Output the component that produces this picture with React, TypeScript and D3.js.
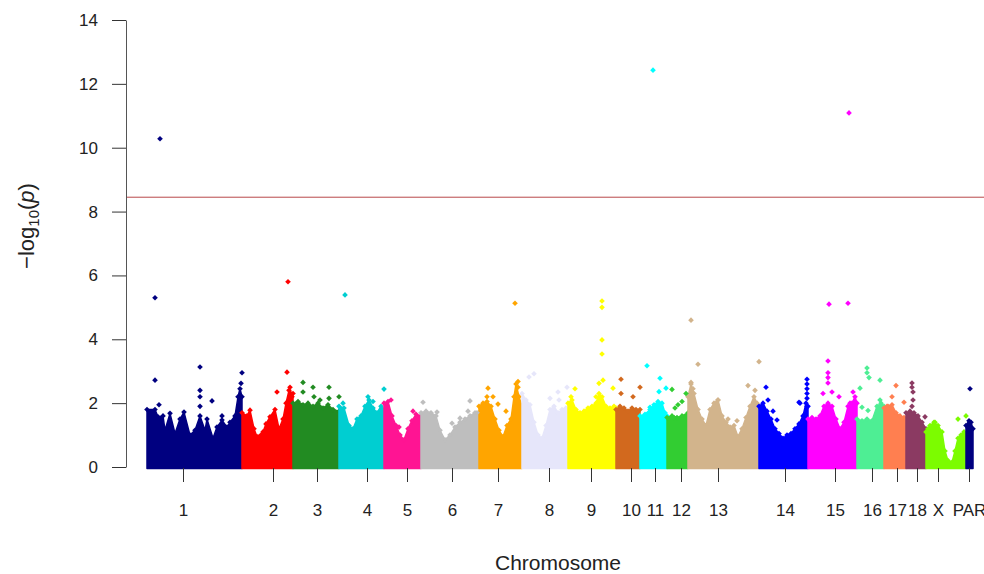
import { useEffect, useRef } from 'react'
import * as d3 from 'd3'

const chromosomes = ['1', '2', '3', '4', '5', '6', '7', '8', '9', '10', '11', '12', '13', '14', '15', '16', '17', '18', 'X', 'PAR']
const chrLengths = [95, 51, 46, 45, 37, 58, 43, 46, 48, 24, 27, 21, 71, 49, 49, 27, 22, 20, 40, 7]
const chrTickOffsets = [36, 31, 24, 28, 23, 31, 19, 27, 23, 15, 15, 14, 30, 26, 27, 15, 13, 11, 12, 3]
const chrColors = [
  '#000080', '#FF0000', '#228B22', '#00CED1', '#FF1493', '#BEBEBE', '#FFA500',
  '#E6E6FA', '#FFFF00', '#D2691E', '#00FFFF', '#32CD32', '#D2B48C', '#0000FF',
  '#FF00FF', '#4EEE94', '#FF7F50', '#8B3A62', '#7CFC00', '#000080'
]
const yTicks = [0, 2, 4, 6, 8, 10, 12, 14]
const threshold = 8.45

// upper edge of the dense cloud of SNPs: [chromosome, position, -log10(p)]
const bandTops: [string, number, number][] = [
  ['1', 0, 1.8], ['1', 8, 1.8], ['1', 11, 1.57], ['1', 16, 1.6], ['1', 18, 1.15], ['1', 23, 1.68], ['1', 28, 1.05],
  ['1', 33, 1.5], ['1', 37, 1.72], ['1', 43, 1.0], ['1', 48, 1.15], ['1', 53, 1.6], ['1', 58, 1.15], ['1', 60, 1.5],
  ['1', 66, 0.9], ['1', 70, 1.25], ['1', 75, 1.47], ['1', 80, 1.25], ['1', 83, 1.4], ['1', 88, 1.6], ['1', 91, 2.2],
  ['1', 93, 2.45], ['1', 95, 2.2],
  ['2', 0, 1.7], ['2', 5, 1.6], ['2', 8, 1.78], ['2', 12, 1.2], ['2', 15, 0.95], ['2', 21, 1.1], ['2', 24, 1.35],
  ['2', 28, 1.57], ['2', 33, 1.8], ['2', 37, 1.2], ['2', 41, 1.5], ['2', 44, 2.0], ['2', 47, 2.4], ['2', 51, 2.3],
  ['3', 0, 2.0], ['3', 5, 2.05], ['3', 10, 1.95], ['3', 15, 2.0], ['3', 20, 1.9], ['3', 25, 2.0], ['3', 30, 1.85],
  ['3', 35, 1.95], ['3', 40, 1.8], ['3', 46, 1.75],
  ['4', 0, 1.9], ['4', 5, 1.85], ['4', 10, 1.3], ['4', 14, 1.2], ['4', 18, 1.5], ['4', 22, 1.6], ['4', 26, 1.9],
  ['4', 30, 2.1], ['4', 34, 1.85], ['4', 38, 1.7], ['4', 42, 1.9], ['4', 45, 1.8],
  ['5', 0, 2.0], ['5', 4, 2.05], ['5', 8, 1.6], ['5', 12, 1.3], ['5', 16, 1.0], ['5', 20, 0.85], ['5', 24, 1.2],
  ['5', 28, 1.45], ['5', 32, 1.65], ['5', 37, 1.6],
  ['6', 0, 1.7], ['6', 5, 1.75], ['6', 10, 1.7], ['6', 15, 1.6], ['6', 19, 1.15], ['6', 24, 0.85], ['6', 29, 1.0],
  ['6', 34, 1.25], ['6', 39, 1.4], ['6', 44, 1.5], ['6', 49, 1.6], ['6', 54, 1.7], ['6', 58, 1.7],
  ['7', 0, 1.9], ['7', 4, 2.0], ['7', 8, 2.05], ['7', 12, 1.9], ['7', 16, 1.5], ['7', 20, 1.15], ['7', 24, 0.95],
  ['7', 28, 1.3], ['7', 32, 1.5], ['7', 35, 2.2], ['7', 37, 2.6], ['7', 40, 2.2], ['7', 43, 1.9],
  ['8', 0, 2.3], ['8', 4, 2.1], ['8', 8, 1.95], ['8', 12, 1.4], ['8', 16, 1.0], ['8', 20, 0.9], ['8', 24, 1.3],
  ['8', 28, 1.8], ['8', 32, 1.9], ['8', 36, 1.7], ['8', 40, 1.8], ['8', 44, 1.85], ['8', 46, 1.8],
  ['9', 0, 2.0], ['9', 4, 2.1], ['9', 8, 1.8], ['9', 12, 1.7], ['9', 16, 1.75], ['9', 20, 1.85], ['9', 24, 1.9],
  ['9', 28, 2.0], ['9', 31, 2.3], ['9', 34, 2.2], ['9', 38, 1.9], ['9', 42, 1.85], ['9', 46, 1.9], ['9', 48, 1.85],
  ['10', 0, 1.8], ['10', 4, 1.9], ['10', 8, 1.85], ['10', 12, 1.75], ['10', 16, 1.85], ['10', 20, 1.8], ['10', 24, 1.8],
  ['11', 0, 1.6], ['11', 5, 1.65], ['11', 10, 1.8], ['11', 14, 1.95], ['11', 18, 2.05], ['11', 22, 2.0], ['11', 25, 1.7],
  ['11', 27, 1.6],
  ['12', 0, 1.55], ['12', 5, 1.6], ['12', 10, 1.55], ['12', 15, 1.6], ['12', 21, 1.7],
  ['13', 0, 2.2], ['13', 3, 2.6], ['13', 6, 2.3], ['13', 10, 1.8], ['13', 14, 1.5], ['13', 18, 1.3], ['13', 22, 1.8],
  ['13', 26, 2.0], ['13', 30, 2.1], ['13', 34, 1.6], ['13', 38, 1.4], ['13', 42, 1.25], ['13', 46, 1.3], ['13', 50, 0.95],
  ['13', 54, 1.2], ['13', 58, 1.55], ['13', 62, 1.9], ['13', 66, 2.2], ['13', 69, 2.0], ['13', 71, 1.9],
  ['14', 0, 1.9], ['14', 4, 2.0], ['14', 8, 1.75], ['14', 12, 1.5], ['14', 16, 1.2], ['14', 20, 1.05], ['14', 24, 0.9],
  ['14', 28, 1.0], ['14', 32, 1.05], ['14', 36, 1.2], ['14', 40, 1.35], ['14', 44, 1.6], ['14', 47, 2.0], ['14', 49, 1.9],
  ['15', 0, 1.5], ['15', 4, 1.55], ['15', 8, 1.5], ['15', 12, 1.6], ['15', 16, 1.9], ['15', 20, 2.0], ['15', 24, 1.9],
  ['15', 28, 1.5], ['15', 32, 1.2], ['15', 36, 1.4], ['15', 40, 1.9], ['15', 44, 2.0], ['15', 47, 2.2], ['15', 49, 2.0],
  ['16', 0, 1.5], ['16', 5, 1.45], ['16', 10, 1.5], ['16', 15, 1.45], ['16', 20, 1.9], ['16', 24, 2.0], ['16', 27, 1.9],
  ['17', 0, 1.85], ['17', 4, 1.9], ['17', 8, 1.95], ['17', 12, 1.7], ['17', 16, 1.6], ['17', 20, 1.55], ['17', 22, 1.5],
  ['18', 0, 1.7], ['18', 4, 1.75], ['18', 8, 1.7], ['18', 12, 1.6], ['18', 16, 1.4], ['18', 20, 1.2],
  ['X', 0, 1.1], ['X', 4, 1.3], ['X', 8, 1.4], ['X', 12, 1.3], ['X', 16, 1.1], ['X', 19, 0.5], ['X', 22, 0.2],
  ['X', 26, 0.15], ['X', 29, 0.5], ['X', 32, 0.9], ['X', 35, 1.0], ['X', 38, 1.1], ['X', 40, 1.0],
  ['PAR', 0, 1.3], ['PAR', 3, 1.45], ['PAR', 5, 1.4], ['PAR', 7, 1.2]
]

// SNPs standing out above the cloud: [chromosome, position, -log10(p)]
const snps: [string, number, number][] = [
  ['1', 13, 10.28], ['1', 8, 5.3], ['1', 8, 2.72], ['1', 12, 1.95], ['1', 53, 3.13], ['1', 53, 2.4], ['1', 53, 2.2],
  ['1', 53, 1.9], ['1', 65, 2.07], ['1', 75, 1.6], ['1', 94, 2.62], ['1', 95, 2.95],
  ['2', 46, 5.8], ['2', 45, 2.97], ['2', 35, 2.35], ['2', 48, 2.5], ['2', 50, 2.2],
  ['3', 10, 2.65], ['3', 10, 2.35], ['3', 20, 2.5], ['3', 21, 2.2], ['3', 27, 2.1], ['3', 36, 2.5], ['3', 36, 2.15],
  ['3', 46, 2.2],
  ['4', 6, 5.39], ['4', 4, 2.0], ['4', 29, 2.2], ['4', 34, 2.05], ['4', 45, 2.44],
  ['5', 7, 2.1], ['5', 15, 1.25], ['5', 29, 1.75],
  ['6', 2, 2.03], ['6', 16, 1.72], ['6', 31, 1.37], ['6', 39, 1.53], ['6', 47, 1.75], ['6', 49, 2.07], ['6', 56, 1.7],
  ['7', 36, 5.13], ['7', 9, 2.47], ['7', 8, 2.2], ['7', 14, 2.2], ['7', 19, 1.97], ['7', 27, 1.75], ['7', 39, 2.68],
  ['7', 39, 2.5],
  ['8', 7, 2.82], ['8', 12, 2.92], ['8', 28, 2.15], ['8', 36, 2.35], ['8', 45, 2.5], ['8', 37, 2.1],
  ['9', 34, 5.2], ['9', 34, 5.0], ['9', 34, 3.98], ['9', 34, 3.54], ['9', 7, 2.45], ['9', 31, 2.62], ['9', 35, 2.72],
  ['9', 45, 2.47], ['9', 3, 2.2], ['9', 28, 2.2],
  ['10', 5, 2.75], ['10', 5, 2.3], ['10', 17, 2.2], ['10', 24, 2.5],
  ['11', 13, 12.43], ['11', 7, 3.17], ['11', 10, 1.87], ['11', 20, 2.78], ['11', 19, 2.36], ['11', 26, 2.47],
  ['12', 5, 2.43], ['12', 8, 1.85], ['12', 11, 1.95], ['12', 15, 2.05], ['12', 19, 2.3], ['12', 7, 1.55],
  ['13', 3, 4.6], ['13', 10, 3.22], ['13', 3, 2.65], ['13', 5, 2.45], ['13', 30, 2.1], ['13', 40, 1.5], ['13', 49, 1.45],
  ['13', 60, 2.55], ['13', 67, 2.4], ['13', 71, 3.3],
  ['14', 7, 2.5], ['14', 9, 2.1], ['14', 14, 1.75], ['14', 18, 1.47], ['14', 40, 2.03], ['14', 41, 2.0], ['14', 48, 2.75],
  ['14', 48, 2.6], ['14', 48, 2.45], ['14', 48, 2.3], ['14', 48, 2.15], ['14', 48, 1.9],
  ['15', 21, 5.1], ['15', 40, 5.13], ['15', 41, 11.09], ['15', 20, 3.32], ['15', 20, 2.95], ['15', 20, 2.8],
  ['15', 20, 2.63], ['15', 15, 2.3], ['15', 24, 2.35], ['15', 31, 2.2], ['15', 45, 2.35], ['15', 42, 2.0],
  ['16', 10, 3.1], ['16', 10, 2.95], ['16', 12, 2.8], ['16', 23, 2.72], ['16', 3, 2.47], ['16', 5, 1.87], ['16', 11, 1.77],
  ['16', 23, 2.1],
  ['17', 12, 2.55], ['17', 8, 2.2], ['17', 20, 2.03], ['17', 3, 1.9],
  ['18', 6, 2.63], ['18', 6, 2.5], ['18', 7, 2.35], ['18', 7, 2.1], ['18', 6, 1.9], ['18', 19, 1.57],
  ['X', 2, 1.2], ['X', 9, 1.4], ['X', 32, 1.5], ['X', 40, 1.6],
  ['PAR', 4, 2.45]
]

export default function App() {
  const svgRef = useRef<SVGSVGElement>(null)

  useEffect(() => {
    if (!svgRef.current) return
    const svg = d3.select(svgRef.current)
    svg.selectAll('*').remove()

    const starts = chrLengths.map((_, i) => d3.sum(chrLengths.slice(0, i)))
    const total = d3.sum(chrLengths)
    const idx = (c: string) => chromosomes.indexOf(c)
    const pos = (c: string, off: number) => starts[idx(c)] + off

    const x = d3.scaleLinear().domain([0, total]).range([147, 147 + total])
    const y = d3.scaleLinear().domain([0, 14]).range([467, 20])

    const font = 'Liberation Sans, Arial, sans-serif'
    const diamond = d3.symbol().type(d3.symbolDiamond2).size(20)

    // dense cloud per chromosome
    chromosomes.forEach((c, i) => {
      const pts = bandTops.filter(d => d[0] === c).sort((a, b) => a[1] - b[1])
      const area = d3.area<[string, number, number]>()
        .x(d => x(pos(d[0], d[1])))
        .y0(y(0) + 1.5)
        .y1(d => y(d[2]))
      svg.append('path')
        .attr('d', area(pts))
        .attr('fill', chrColors[i])
        .attr('stroke', chrColors[i])
        .attr('stroke-width', 1.5)
        .attr('stroke-linejoin', 'round')
      svg.append('g')
        .selectAll('path')
        .data(pts)
        .join('path')
        .attr('transform', d => `translate(${x(pos(d[0], d[1]))},${y(d[2])})`)
        .attr('d', diamond)
        .attr('fill', chrColors[i])
    })

    // standout SNPs
    svg.append('g')
      .selectAll('path')
      .data(snps)
      .join('path')
      .attr('transform', d => `translate(${x(pos(d[0], d[1]))},${y(d[2])})`)
      .attr('d', diamond)
      .attr('fill', d => chrColors[idx(d[0])])

    // significance threshold
    svg.append('line')
      .attr('x1', 126)
      .attr('x2', 984)
      .attr('y1', y(threshold))
      .attr('y2', y(threshold))
      .attr('stroke', '#B8484A')
      .attr('stroke-width', 1)

    // y axis
    const yAxis = svg.append('g')
      .attr('transform', 'translate(126,0)')
      .call(d3.axisLeft(y).tickValues(yTicks).tickSize(14).tickSizeOuter(0).tickPadding(14))
    yAxis.select('.domain').attr('stroke', '#555')
    yAxis.selectAll('.tick line').attr('stroke', '#333')
    yAxis.selectAll('text')
      .attr('font-family', font)
      .attr('font-size', 17)
      .attr('fill', '#222')

    // x axis (ticks only)
    const tickPos = chromosomes.map((c, i) => starts[i] + chrTickOffsets[i])
    const xAxis = svg.append('g')
      .attr('transform', 'translate(0,468)')
      .call(
        d3.axisBottom(x)
          .tickValues(tickPos)
          .tickFormat((_, i) => chromosomes[i])
          .tickSize(14)
          .tickPadding(22)
      )
    xAxis.select('.domain').remove()
    xAxis.selectAll('.tick line').attr('stroke', '#333')
    xAxis.selectAll('text')
      .attr('font-family', font)
      .attr('font-size', 17)
      .attr('fill', '#222')

    // axis titles
    svg.append('text')
      .attr('x', 558)
      .attr('y', 570)
      .attr('text-anchor', 'middle')
      .attr('font-family', font)
      .attr('font-size', 21)
      .attr('fill', '#222')
      .text('Chromosome')

    const yt = svg.append('text')
      .attr('transform', 'translate(34,226) rotate(-90)')
      .attr('text-anchor', 'middle')
      .attr('font-family', font)
      .attr('font-size', 22)
      .attr('fill', '#222')
    yt.append('tspan').text('\u2212log')
    yt.append('tspan').attr('font-size', 15).attr('dy', 5).text('10')
    yt.append('tspan').attr('dy', -5).text('(')
    yt.append('tspan').attr('font-style', 'italic').text('p')
    yt.append('tspan').text(')')
  }, [])

  return (
    <svg
      ref={svgRef}
      width={984}
      height={574}
      style={{ position: 'absolute', left: 0, top: 0, background: '#fff', display: 'block' }}
    />
  )
}
